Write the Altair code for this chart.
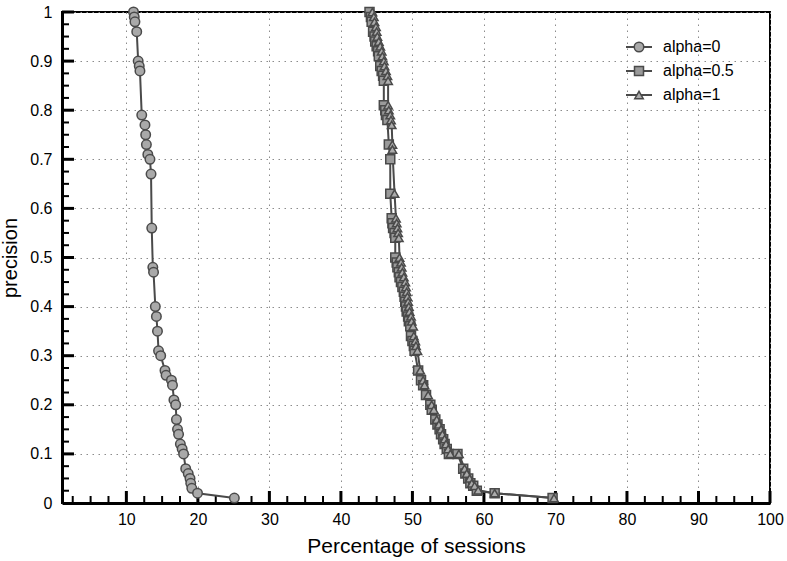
import altair as alt
import pandas as pd

FONT = "Liberation Sans"

series_names = ["alpha=0", "alpha=0.5", "alpha=1"]

a0_x = [11.0, 11.1, 11.2, 11.45, 11.65, 11.8, 11.9, 12.15, 12.6, 12.7,
        12.8, 13.0, 13.3, 13.45, 13.55, 13.7, 13.8, 14.05, 14.2, 14.35,
        14.5, 14.8, 15.4, 15.55, 16.3, 16.45, 16.65, 16.9, 17.0, 17.15,
        17.3, 17.55, 17.8, 18.0, 18.3, 18.65, 18.9, 19.0, 19.15, 19.95, 25.1]
a0_p = [1.00, 0.99, 0.98, 0.96, 0.90, 0.89, 0.88, 0.79, 0.77, 0.75,
        0.73, 0.71, 0.70, 0.67, 0.56, 0.48, 0.47, 0.40, 0.38, 0.35,
        0.31, 0.30, 0.27, 0.26, 0.25, 0.24, 0.21, 0.20, 0.17, 0.15,
        0.14, 0.12, 0.11, 0.10, 0.07, 0.06, 0.05, 0.04, 0.03, 0.02, 0.01]

a05_x = [44.0, 44.2, 44.3, 44.5, 44.7, 44.8, 45.0, 45.2, 45.3, 45.5,
         45.7, 45.9, 46.0, 46.0, 46.2, 46.3, 46.5, 46.7, 46.9, 46.9,
         47.1, 47.2, 47.3, 47.5, 47.6, 47.6, 47.8, 47.9, 48.1, 48.2,
         48.4, 48.6, 48.8, 48.9, 49.0, 49.1, 49.2, 49.4, 49.5, 49.7,
         49.8, 50.0, 50.2, 50.3, 50.8, 51.2, 51.5, 51.9, 52.5, 52.7,
         53.2, 53.5, 53.8, 54.0, 54.3, 54.5, 54.8, 55.1, 56.3, 57.1,
         57.4, 57.8, 58.1, 58.5, 59.0, 61.5, 69.6]
a05_p = [1.00, 0.99, 0.98, 0.96, 0.95, 0.94, 0.93, 0.92, 0.91, 0.89,
         0.88, 0.87, 0.86, 0.81, 0.80, 0.79, 0.78, 0.73, 0.70, 0.63,
         0.58, 0.57, 0.56, 0.55, 0.54, 0.50, 0.49, 0.48, 0.47, 0.46,
         0.45, 0.44, 0.43, 0.42, 0.41, 0.40, 0.39, 0.38, 0.37, 0.36,
         0.34, 0.33, 0.32, 0.31, 0.27, 0.25, 0.24, 0.22, 0.20, 0.19,
         0.17, 0.16, 0.15, 0.14, 0.13, 0.12, 0.11, 0.10, 0.10, 0.07,
         0.06, 0.05, 0.04, 0.035, 0.025, 0.02, 0.01]

a1_x = [44.4, 44.6, 44.7, 44.9, 45.0, 45.1, 45.3, 45.5, 45.7, 45.8,
        46.0, 46.1, 46.3, 46.5, 46.6, 46.6, 46.7, 46.9, 47.0, 47.1,
        47.2, 47.2, 47.5, 47.7, 47.8, 47.9, 48.0, 48.1, 48.2, 48.4,
        48.5, 48.6, 48.8, 49.0, 49.1, 49.2, 49.3, 49.4, 49.5, 49.6,
        49.8, 49.9, 50.1, 50.2, 50.4, 50.5, 50.7, 51.1, 51.5, 51.7,
        52.2, 52.7, 53.0, 53.4, 53.7, 54.0, 54.2, 54.5, 54.7, 55.0,
        55.3, 56.5, 57.3, 57.6, 58.0, 58.3, 58.7, 59.2, 61.5, 69.8]
a1_p = [1.00, 0.99, 0.98, 0.97, 0.96, 0.95, 0.94, 0.93, 0.92, 0.91,
        0.90, 0.89, 0.88, 0.87, 0.86, 0.81, 0.80, 0.79, 0.78, 0.77,
        0.73, 0.72, 0.63, 0.58, 0.57, 0.56, 0.55, 0.54, 0.50, 0.49,
        0.48, 0.47, 0.46, 0.45, 0.44, 0.43, 0.42, 0.41, 0.40, 0.39,
        0.38, 0.37, 0.36, 0.34, 0.33, 0.32, 0.31, 0.27, 0.25, 0.24,
        0.22, 0.20, 0.19, 0.17, 0.16, 0.15, 0.14, 0.13, 0.12, 0.11,
        0.10, 0.10, 0.07, 0.06, 0.05, 0.04, 0.035, 0.026, 0.02, 0.01]

x_major = [10, 20, 30, 40, 50, 60, 70, 80, 90, 100]
x_minor = [m / 2 for m in range(5, 200, 5) if m % 20 != 0]
y_major = [0.1, 0.2, 0.3, 0.4, 0.5, 0.6, 0.7, 0.8, 0.9, 1.0]
y_labels = [0, 0.1, 0.2, 0.3, 0.4, 0.5, 0.6, 0.7, 0.8, 0.9, 1]
y_minor = [k / 40 for k in range(1, 40) if k % 4 != 0]

rows = []
for name, xs, ps in [(series_names[0], a0_x, a0_p),
                     (series_names[1], a05_x, a05_p),
                     (series_names[2], a1_x, a1_p)]:
    for i, (xv, pv) in enumerate(zip(xs, ps)):
        rows.append({"series": name, "x": xv, "p": pv, "idx": i})
df = pd.DataFrame(rows)
legend_df = pd.DataFrame({"series": series_names, "row": [0, 1, 2]})

W, H = 708, 491
LINE = "#4a4a4a"

xscale = alt.Scale(domain=[1, 100], nice=False, zero=False)
yscale = alt.Scale(domain=[0, 1], nice=False, zero=False)
axis_common = dict(grid=True, gridDash=[1.5, 4.5], gridColor="#8c8c8c", gridWidth=1,
                   ticks=False, domainWidth=3, domainColor="black",
                   labelFontSize=16, labelFont=FONT, titleFont=FONT,
                   labelColor="black", titleColor="black",
                   titleFontWeight="normal", labelFlush=False)
xaxis = alt.Axis(values=x_major, title="Percentage of sessions",
                 labelPadding=8, titlePadding=8, titleFontSize=21, **axis_common)
yaxis = alt.Axis(values=y_labels, format="~g", title="precision",
                 labelPadding=10, titlePadding=9, titleFontSize=20, **axis_common)


def X(field="x"):
    return alt.X(f"{field}:Q", scale=xscale, axis=xaxis)


def Y(field="p"):
    return alt.Y(f"{field}:Q", scale=yscale, axis=yaxis)


shape_enc = alt.Shape("series:N", scale=alt.Scale(domain=series_names,
                      range=["circle", "square", "triangle-up"]), legend=None)
fill_enc = alt.Fill("series:N", scale=alt.Scale(domain=series_names,
                    range=["#a9a9a9", "#9a9a9a", "#acacac"]), legend=None)
size_enc = alt.Size("series:N", scale=alt.Scale(domain=series_names,
                    range=[90, 72, 85]), legend=None)

xmaj = alt.Chart(pd.DataFrame({"x": x_major})).mark_rule(
    color="black", strokeWidth=3).encode(x=X(), y=alt.value(H), y2=alt.value(H - 12))
xmin = alt.Chart(pd.DataFrame({"x": x_minor})).mark_rule(
    color="black", strokeWidth=2).encode(x=X(), y=alt.value(H), y2=alt.value(H - 7))
ymaj = alt.Chart(pd.DataFrame({"p": y_major})).mark_rule(
    color="black", strokeWidth=3).encode(y=Y(), x=alt.value(0), x2=alt.value(12))
ymin = alt.Chart(pd.DataFrame({"p": y_minor})).mark_rule(
    color="black", strokeWidth=2).encode(y=Y(), x=alt.value(0), x2=alt.value(7))

lines = alt.Chart(df).mark_line(strokeWidth=2, color=LINE).encode(
    x=X(), y=Y(), detail="series:N", order="idx:Q")

points = alt.Chart(df).mark_point(filled=True, stroke=LINE,
                                  strokeWidth=1.5, opacity=1).encode(
    x=X(), y=Y(), shape=shape_enc, fill=fill_enc, size=size_enc)

main = alt.layer(xmin, xmaj, ymin, ymaj, lines, points)

# legend drawn inside the plot, top right
ly = alt.Y("row:Q", scale=alt.Scale(domain=[0, 2], range=[35, 83], nice=False, zero=False),
           axis=None)
leg_line = alt.Chart(legend_df).mark_rule(strokeWidth=2, color=LINE).encode(
    y=ly, x=alt.value(564), x2=alt.value(590))
leg_pts = alt.Chart(legend_df).mark_point(filled=True, stroke=LINE,
                                          strokeWidth=1.5, opacity=1).encode(
    y=ly, x=alt.value(577), shape=shape_enc, fill=fill_enc, size=size_enc)
leg_txt = alt.Chart(legend_df).mark_text(align="left", baseline="middle", font=FONT,
                                         fontSize=16, color="black").encode(
    y=ly, x=alt.value(601), text="series:N")
legend = alt.layer(leg_line, leg_pts, leg_txt)

chart = alt.layer(main, legend).resolve_scale(y="independent").properties(
    width=W, height=H,
    autosize=alt.AutoSizeParams(type="none"),
    padding={"left": 62, "top": 12, "right": 17, "bottom": 58},
    background="white",
).configure_view(stroke="black", strokeWidth=2)

chart.save("out.html", embed_options={"renderer": "svg", "actions": False})
